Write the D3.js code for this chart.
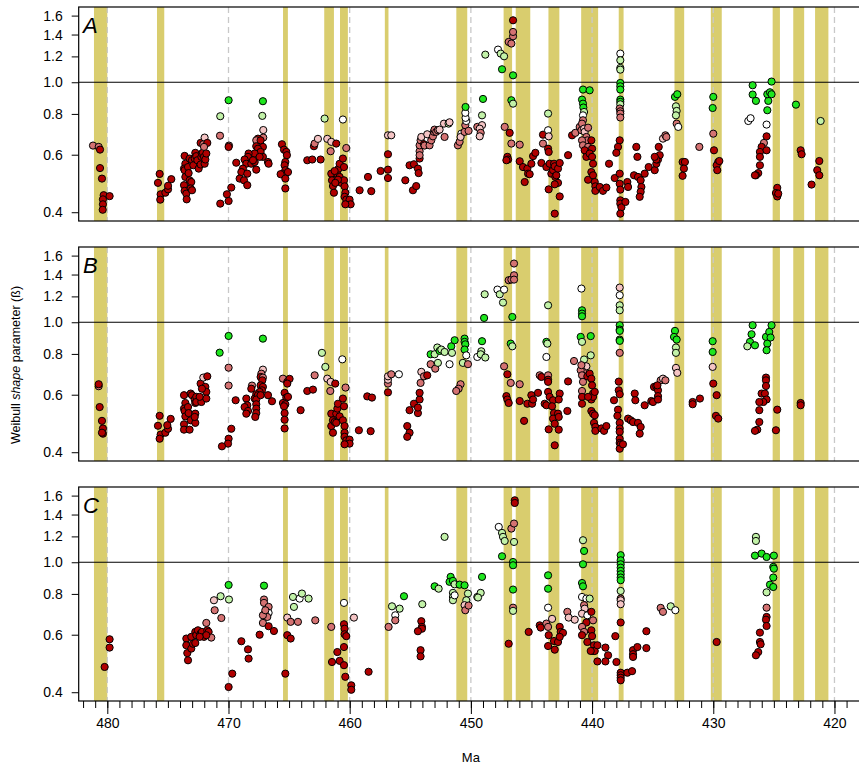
<!DOCTYPE html>
<html>
<head>
<meta charset="utf-8">
<script src="https://cdn.jsdelivr.net/npm/d3@7"></script>
<style>
  body { margin: 0; background: #fff; }
  svg { font-family: "Liberation Sans", Arial, sans-serif; }
</style>
</head>
<body>
<div id="chart"></div>
<script>
// extinction intervals (Ma, older -> younger)
const bands = [[481.1,480.0],[475.9,475.3],[465.5,465.1],[462.1,461.3],[460.8,460.15],[457.1,456.8],
  [451.2,450.3],[447.3,446.6],[446.3,445.1],[443.6,442.7],[440.9,439.5],[437.8,437.4],
  [433.2,432.4],[430.2,429.3],[425.1,424.5],[423.4,422.5],[421.6,420.5]];

const panelNames = ["A", "B", "C"];
const yTicks = [0.4, 0.6, 0.8, 1.0, 1.2, 1.4, 1.6];
const xMajor = [480, 470, 460, 450, 440, 430, 420];
const classKeys = ["r", "m", "p", "w", "l", "g"];
const classColors = ["#b00000", "#d47272", "#f4c4c4", "#ffffff", "#c2f2a8", "#1ee61e"];

// [age Ma, shape, class]
const pointsA = [
[481.18,0.640,'m'],[480.71,0.634,'m'],[480.60,0.622,'r'],[480.60,0.546,'r'],[480.44,0.507,'r'],[480.30,0.451,'r'],[479.81,0.448,'r'],[480.36,0.438,'r'],[480.36,0.423,'r'],[480.38,0.407,'r'],
[475.68,0.524,'r'],[475.82,0.492,'r'],[475.60,0.454,'r'],[475.63,0.437,'r'],[475.21,0.459,'r'],[474.99,0.470,'r'],[474.99,0.482,'r'],[474.72,0.505,'r'],
[473.62,0.595,'r'],[473.56,0.563,'r'],[473.67,0.544,'r'],[473.62,0.538,'r'],[473.56,0.513,'r'],[473.67,0.484,'r'],[473.62,0.465,'r'],[473.48,0.456,'r'],[473.45,0.438,'r'],[473.34,0.550,'r'],[473.29,0.527,'r'],[473.21,0.501,'r'],[473.07,0.495,'r'],[473.12,0.473,'r'],[473.01,0.467,'r'],[473.21,0.584,'r'],[473.01,0.577,'r'],[472.90,0.557,'r'],[472.79,0.584,'r'],[472.74,0.608,'r'],[472.66,0.594,'r'],[472.57,0.577,'r'],[472.46,0.544,'r'],[472.30,0.560,'r'],[472.24,0.591,'r'],[472.19,0.605,'r'],[472.11,0.609,'r'],[472.02,0.591,'r'],[471.97,0.563,'r'],[471.91,0.580,'r'],[471.83,0.605,'r'],[472.30,0.652,'r'],[472.08,0.646,'m'],[471.97,0.677,'p'],[471.75,0.652,'r'],[472.02,0.634,'m'],
[470.68,0.787,'l'],[470.70,0.686,'m'],[469.99,0.881,'g'],[469.96,0.640,'m'],[469.99,0.634,'r'],[469.36,0.567,'r'],[469.77,0.476,'r'],[470.13,0.454,'r'],[469.99,0.433,'r'],[470.68,0.425,'r'],
[467.16,0.875,'g'],[467.21,0.789,'l'],[467.13,0.714,'p'],[467.13,0.677,'m'],[467.57,0.672,'r'],[467.71,0.664,'m'],[467.71,0.637,'r'],[467.16,0.634,'r'],[467.57,0.626,'r'],[467.35,0.612,'r'],[467.84,0.605,'r'],[467.16,0.591,'r'],[468.34,0.605,'r'],[468.39,0.591,'r'],[468.67,0.580,'r'],[468.53,0.563,'r'],[468.12,0.563,'r'],[467.84,0.570,'r'],[467.71,0.540,'r'],[468.81,0.544,'r'],[468.94,0.531,'r'],[469.08,0.507,'r'],[468.72,0.501,'r'],[468.45,0.525,'r'],[468.45,0.484,'r'],[466.74,0.570,'r'],[466.69,0.563,'r'],[467.98,0.577,'r'],[467.43,0.591,'r'],[467.35,0.664,'r'],
[465.59,0.646,'r'],[465.42,0.622,'r'],[465.23,0.612,'r'],[465.18,0.598,'r'],[465.31,0.570,'r'],[465.37,0.557,'r'],[465.31,0.538,'r'],[465.51,0.525,'r'],[465.70,0.523,'r'],[465.09,0.531,'r'],[465.31,0.507,'r'],[465.31,0.473,'r'],
[463.50,0.577,'r'],[463.09,0.580,'r'],[462.40,0.580,'r'],[462.95,0.637,'r'],[462.89,0.649,'m'],[462.62,0.671,'p'],
[462.07,0.774,'l'],[461.85,0.671,'p'],[461.52,0.657,'p'],[461.11,0.649,'r'],[461.57,0.615,'m'],[460.56,0.769,'w'],[460.28,0.629,'m'],
[461.52,0.525,'r'],[461.46,0.501,'r'],[461.38,0.481,'r'],[461.30,0.459,'r'],[461.11,0.495,'r'],[461.02,0.523,'r'],[460.91,0.544,'r'],[460.83,0.563,'r'],[461.24,0.535,'r'],[460.83,0.513,'r'],[460.69,0.492,'r'],[460.56,0.584,'r'],[460.47,0.550,'r'],[460.47,0.501,'r'],[460.42,0.480,'r'],[460.36,0.459,'r'],[460.42,0.446,'r'],[460.28,0.437,'r'],[460.01,0.437,'r'],[459.92,0.423,'r'],[460.36,0.423,'r'],[460.97,0.503,'r'],[461.19,0.492,'r'],
[459.18,0.467,'r'],[458.49,0.513,'r'],[458.22,0.464,'r'],
[457.45,0.535,'r'],[456.84,0.602,'r'],[456.84,0.540,'r'],[456.84,0.509,'r'],[456.84,0.688,'p'],[456.57,0.688,'p'],
[455.41,0.501,'r'],[455.06,0.557,'r'],[454.70,0.561,'r'],[454.78,0.467,'r'],[454.51,0.481,'r'],[454.37,0.544,'r'],[454.31,0.527,'r'],[454.23,0.584,'r'],[454.23,0.615,'m'],[454.23,0.641,'m'],[454.23,0.598,'m'],[454.15,0.664,'m'],[454.09,0.680,'p'],[453.87,0.646,'r'],[453.82,0.640,'m'],[453.60,0.693,'p'],[453.41,0.641,'m'],[453.27,0.664,'m'],[453.13,0.683,'m'],[453.05,0.705,'m'],[453.00,0.716,'m'],[452.86,0.705,'m'],[452.72,0.713,'m'],[452.58,0.716,'p'],[452.22,0.747,'p'],[452.17,0.680,'m'],[451.84,0.747,'l'],[451.76,0.754,'p'],
[451.07,0.641,'m'],[450.93,0.657,'m'],[450.79,0.696,'w'],[450.85,0.680,'p'],[450.52,0.705,'m'],[450.46,0.739,'m'],[450.38,0.761,'w'],[450.44,0.778,'w'],[450.46,0.806,'w'],[450.44,0.840,'g'],[450.19,0.710,'m'],[449.47,0.730,'m'],
[448.81,1.215,'l'],[447.76,1.259,'w'],[447.54,1.224,'l'],[447.26,1.201,'l'],[447.43,1.096,'g'],[446.52,1.050,'g'],[446.88,1.329,'m'],[446.66,1.314,'m'],[446.52,1.383,'m'],[446.52,1.426,'m'],[446.52,1.548,'r'],
[449.00,0.889,'g'],[449.08,0.792,'l'],[449.08,0.739,'p'],[449.27,0.721,'p'],[449.19,0.700,'m'],[449.27,0.683,'p'],
[446.66,0.881,'g'],[446.52,0.860,'l'],[447.21,0.730,'m'],[446.80,0.700,'r'],[446.66,0.649,'m'],[445.97,0.644,'m'],[446.99,0.591,'r'],[446.93,0.580,'r'],[447.07,0.577,'r'],[445.97,0.573,'r'],[445.70,0.550,'r'],[445.56,0.495,'r'],[445.34,0.544,'r'],[445.28,0.525,'r'],[445.15,0.523,'r'],[445.01,0.563,'r'],[444.87,0.594,'r'],[444.68,0.608,'r'],[444.18,0.566,'r'],[444.05,0.691,'r'],[444.05,0.649,'m'],[443.63,0.802,'l'],[443.63,0.713,'w'],[443.58,0.683,'p'],[443.63,0.626,'r'],[443.58,0.612,'r'],[443.77,0.550,'r'],[443.50,0.563,'r'],[443.36,0.525,'r'],[443.22,0.538,'r'],[443.14,0.563,'r'],[443.08,0.553,'r'],[443.03,0.513,'r'],[442.95,0.519,'r'],[442.81,0.544,'r'],[442.81,0.492,'r'],[442.67,0.566,'r'],[442.67,0.447,'r'],[443.08,0.487,'r'],[443.58,0.470,'r'],[443.08,0.396,'r'],
[441.98,0.598,'r'],[441.65,0.688,'r'],[441.38,0.700,'m'],[441.02,0.730,'m'],[440.88,0.713,'m'],[440.75,0.950,'g'],[440.20,0.945,'g'],[440.83,0.885,'g'],[440.75,0.860,'g'],[440.72,0.837,'g'],[440.66,0.811,'l'],[440.75,0.792,'w'],[440.75,0.765,'m'],[440.83,0.747,'m'],[440.66,0.721,'p'],[440.61,0.705,'p'],[440.33,0.726,'m'],[440.47,0.680,'m'],[440.39,0.664,'m'],[440.83,0.664,'m'],[440.75,0.641,'m'],[440.33,0.634,'m'],[440.06,0.664,'r'],[440.00,0.626,'r'],[440.61,0.619,'r'],[440.47,0.591,'r'],[440.20,0.605,'r'],[440.00,0.591,'r'],[439.92,0.563,'r'],[440.06,0.531,'r'],[440.33,0.503,'r'],[439.92,0.519,'r'],[439.78,0.495,'r'],[439.73,0.480,'r'],[439.73,0.465,'r'],[439.37,0.478,'r'],[439.10,0.465,'r'],[438.82,0.476,'r'],[438.60,0.563,'r'],
[437.67,1.224,'w'],[437.67,1.168,'l'],[437.67,1.106,'l'],[437.67,1.093,'l'],[437.67,0.995,'g'],[437.67,0.972,'g'],[437.67,0.950,'g'],[437.67,0.885,'g'],[437.67,0.871,'g'],[437.67,0.856,'l'],[437.72,0.831,'m'],[437.67,0.815,'m'],[437.67,0.802,'m'],[437.67,0.780,'m'],[437.72,0.664,'r'],[437.86,0.634,'r'],[438.00,0.608,'r'],[438.13,0.509,'r'],[437.72,0.525,'r'],[437.72,0.489,'r'],[437.67,0.469,'r'],[437.67,0.435,'r'],[437.67,0.425,'r'],[437.58,0.414,'r'],[437.67,0.396,'r'],[437.25,0.430,'r'],[437.09,0.495,'r'],[437.03,0.478,'r'],
[436.35,0.634,'r'],[436.26,0.591,'r'],[436.54,0.519,'r'],[436.21,0.513,'r'],[435.99,0.501,'r'],[435.93,0.478,'r'],[435.99,0.462,'r'],[436.07,0.446,'r'],[435.66,0.525,'r'],[435.33,0.550,'r'],[434.83,0.538,'r'],[434.70,0.563,'r'],[434.56,0.580,'r'],[434.42,0.598,'r'],[434.50,0.634,'r'],[434.70,0.580,'r'],[434.83,0.591,'r'],[434.15,0.672,'p'],[433.95,0.688,'m'],[433.87,0.680,'m'],
[433.16,0.902,'g'],[432.97,0.919,'g'],[433.08,0.844,'l'],[433.02,0.817,'l'],[433.08,0.792,'l'],[433.02,0.747,'m'],[432.89,0.730,'w'],
[432.53,0.570,'r'],[432.34,0.570,'r'],[432.42,0.544,'r'],[432.53,0.517,'r'],
[431.15,0.634,'m'],[430.00,0.902,'g'],[430.05,0.834,'g'],[430.00,0.696,'m'],[429.94,0.619,'r'],[429.59,0.570,'r'],[429.72,0.557,'r'],[429.67,0.538,'r'],[429.50,0.574,'r'],
[427.11,0.761,'w'],[426.92,0.776,'w'],[426.75,0.979,'g'],[426.75,0.917,'g'],[426.48,0.877,'g'],[425.60,0.742,'w'],[425.54,0.821,'g'],[425.46,0.877,'g'],[425.54,0.919,'g'],[425.32,0.932,'g'],[425.19,1.005,'g'],[425.19,0.919,'g'],[425.60,0.683,'r'],[425.82,0.652,'m'],[426.01,0.634,'r'],[426.15,0.612,'r'],[426.15,0.591,'r'],[425.60,0.619,'r'],[426.15,0.557,'r'],[426.29,0.527,'r'],[426.48,0.519,'r'],[426.56,0.519,'r'],
[424.72,0.475,'r'],[424.83,0.458,'r'],[424.72,0.447,'r'],[424.64,0.456,'r'],
[423.18,0.854,'g'],[422.79,0.619,'r'],[422.71,0.602,'r'],[421.89,0.486,'r'],[421.14,0.761,'l'],[421.25,0.574,'r'],[421.42,0.538,'r'],[421.25,0.519,'r']
];

const pointsB = [
[480.71,0.637,'m'],[480.71,0.646,'r'],[480.63,0.550,'r'],[480.44,0.499,'r'],[480.36,0.473,'r'],[480.36,0.456,'r'],[480.44,0.459,'r'],
[475.68,0.517,'r'],[475.82,0.482,'r'],[475.60,0.453,'r'],[475.68,0.440,'r'],[475.21,0.459,'r'],[474.99,0.472,'r'],[475.05,0.484,'r'],[474.77,0.506,'r'],
[473.67,0.598,'r'],[473.56,0.566,'r'],[473.67,0.544,'r'],[473.62,0.535,'r'],[473.56,0.515,'r'],[473.67,0.487,'r'],[473.67,0.469,'r'],[473.21,0.469,'r'],[473.34,0.550,'r'],[473.29,0.527,'r'],[473.12,0.501,'r'],[473.12,0.605,'r'],[473.01,0.598,'r'],[472.79,0.580,'r'],[472.74,0.566,'r'],[472.66,0.591,'r'],[472.66,0.570,'r'],[472.74,0.525,'r'],[472.74,0.492,'r'],[472.79,0.513,'r'],[472.24,0.570,'r'],[472.30,0.649,'r'],[472.08,0.677,'p'],[471.75,0.683,'r'],[471.91,0.634,'r'],[471.83,0.612,'r'],[471.83,0.584,'r'],[472.19,0.626,'r'],[472.38,0.591,'r'],
[470.73,0.807,'g'],[469.99,0.908,'g'],[469.99,0.726,'m'],[469.99,0.640,'m'],[469.41,0.577,'r'],[469.77,0.472,'r'],[469.99,0.440,'r'],[470.04,0.425,'r'],[470.54,0.417,'r'],
[467.16,0.891,'g'],[467.16,0.716,'p'],[467.29,0.696,'m'],[467.35,0.680,'r'],[467.16,0.677,'m'],[467.21,0.664,'r'],[467.35,0.641,'r'],[467.16,0.634,'r'],[467.24,0.619,'r'],[468.06,0.640,'m'],[468.12,0.626,'r'],[467.43,0.612,'r'],[467.71,0.602,'r'],[467.84,0.584,'r'],[467.57,0.598,'r'],[467.71,0.580,'r'],[467.71,0.561,'r'],[467.71,0.544,'r'],[467.71,0.527,'r'],[467.79,0.513,'r'],[468.53,0.584,'r'],[468.45,0.557,'r'],[468.67,0.550,'r'],[468.39,0.535,'r'],[468.53,0.525,'r'],[466.74,0.598,'r'],[466.41,0.573,'r'],[467.35,0.598,'r'],
[465.51,0.672,'m'],[465.15,0.657,'r'],[464.96,0.671,'r'],[465.15,0.649,'r'],[465.37,0.608,'r'],[465.23,0.588,'r'],[465.51,0.566,'r'],[465.31,0.561,'r'],[465.42,0.553,'r'],[465.37,0.527,'r'],[465.37,0.503,'r'],[465.37,0.473,'r'],[465.09,0.591,'r'],
[464.05,0.538,'r'],[463.50,0.616,'r'],[463.03,0.622,'r'],[462.89,0.688,'m'],[462.29,0.806,'l'],[462.01,0.730,'l'],[461.85,0.672,'p'],[461.57,0.657,'p'],[461.19,0.649,'r'],[461.60,0.616,'m'],[460.61,0.770,'w'],[460.34,0.631,'m'],
[461.52,0.525,'r'],[461.38,0.501,'r'],[461.52,0.481,'r'],[461.38,0.459,'r'],[461.24,0.495,'r'],[461.11,0.525,'r'],[461.02,0.544,'r'],[460.97,0.563,'r'],[460.83,0.515,'r'],[461.11,0.492,'r'],[460.56,0.584,'r'],[460.47,0.553,'r'],[460.56,0.501,'r'],[460.42,0.481,'r'],[460.42,0.459,'r'],[460.42,0.446,'r'],[460.28,0.435,'r'],[460.01,0.437,'r'],[460.01,0.425,'r'],[460.42,0.423,'r'],
[459.24,0.467,'r'],[458.55,0.593,'r'],[458.16,0.588,'r'],[458.27,0.464,'r'],
[456.84,0.610,'r'],[456.84,0.649,'m'],[456.84,0.667,'p'],[456.84,0.683,'p'],[456.57,0.693,'m'],[455.94,0.693,'w'],
[455.06,0.538,'r'],[455.25,0.481,'r'],[455.06,0.459,'r'],[455.25,0.446,'r'],[454.70,0.563,'r'],[454.37,0.527,'r'],[454.37,0.548,'r'],[454.23,0.580,'r'],[454.23,0.608,'r'],[454.15,0.652,'m'],[454.09,0.705,'p'],[453.87,0.683,'m'],[453.60,0.688,'r'],[453.32,0.744,'m'],[452.94,0.721,'m'],[452.72,0.751,'l'],[453.32,0.798,'g'],[452.99,0.798,'l'],[452.77,0.837,'l'],[452.58,0.817,'g'],[452.44,0.825,'l'],[452.17,0.811,'l'],[451.62,0.844,'g'],[451.56,0.806,'l'],[451.34,0.881,'g'],[451.76,0.744,'w'],
[450.52,0.891,'g'],[450.52,0.871,'g'],[450.46,0.856,'g'],[450.52,0.825,'g'],[450.66,0.751,'l'],[450.38,0.792,'w'],[450.24,0.744,'m'],[450.85,0.646,'m'],[451.01,0.626,'m'],[451.21,0.616,'m'],[449.47,0.783,'w'],
[448.86,1.218,'l'],[447.81,1.259,'w'],[447.62,1.218,'l'],[447.26,1.259,'w'],[447.35,1.149,'l'],[448.91,1.031,'g'],[446.58,1.038,'g'],[446.88,1.345,'m'],[446.66,1.351,'m'],[446.44,1.393,'m'],[446.44,1.351,'m'],[446.44,1.513,'m'],
[449.08,0.875,'g'],[449.14,0.815,'l'],[449.19,0.798,'l'],[448.81,0.780,'l'],[443.63,1.127,'l'],[443.77,0.871,'g'],[443.69,0.860,'l'],[443.77,0.783,'w'],[440.88,1.268,'w'],[440.83,1.088,'g'],[440.83,1.063,'g'],[440.83,1.043,'g'],[440.94,0.902,'g'],[440.83,0.871,'l'],[440.11,0.907,'g'],[440.11,0.792,'l'],[440.66,0.769,'l'],[440.47,0.733,'p'],[440.75,0.705,'m'],[440.66,0.683,'p'],[440.94,0.713,'m'],
[446.71,0.860,'g'],[446.58,0.844,'l'],[447.26,0.733,'m'],[446.99,0.693,'r'],[446.71,0.652,'m'],[445.97,0.646,'m'],[447.07,0.594,'r'],[446.99,0.580,'r'],[446.88,0.566,'r'],[445.97,0.574,'r'],[445.61,0.499,'r'],[445.34,0.563,'r'],[445.01,0.598,'r'],[444.95,0.563,'r'],[444.87,0.580,'r'],[444.46,0.608,'r'],[444.32,0.688,'m'],[444.18,0.680,'r'],[443.91,0.563,'r'],[443.63,0.688,'m'],[443.63,0.667,'r'],[443.63,0.657,'r'],[443.63,0.612,'r'],[443.50,0.591,'r'],[443.77,0.557,'r'],[443.22,0.577,'r'],[443.30,0.553,'r'],[443.14,0.527,'r'],[443.22,0.507,'r'],[443.08,0.489,'r'],[442.81,0.525,'r'],[442.75,0.513,'r'],[442.67,0.605,'r'],[442.75,0.580,'r'],[442.04,0.535,'r'],[441.98,0.659,'r'],[441.49,0.761,'m'],[443.58,0.470,'r'],[442.75,0.469,'r'],[443.08,0.420,'r'],
[440.88,0.739,'m'],[440.83,0.688,'m'],[440.75,0.657,'m'],[440.83,0.616,'m'],[440.83,0.591,'r'],[440.83,0.563,'r'],[440.39,0.683,'r'],[440.20,0.696,'r'],[440.06,0.672,'r'],[440.00,0.641,'r'],[439.92,0.605,'r'],[440.06,0.580,'r'],[439.92,0.591,'r'],[440.06,0.535,'r'],[439.92,0.525,'r'],[439.78,0.519,'r'],[439.84,0.492,'r'],[439.73,0.478,'r'],[439.73,0.465,'r'],[439.23,0.473,'r'],[439.01,0.465,'r'],[438.82,0.481,'r'],[439.78,0.612,'r'],[440.33,0.591,'r'],
[437.72,1.277,'p'],[437.72,1.210,'w'],[437.72,1.127,'l'],[437.72,1.088,'l'],[437.72,0.979,'g'],[437.72,0.950,'g'],[437.72,0.941,'g'],[437.72,0.885,'g'],[437.72,0.877,'g'],[437.72,0.806,'m'],[437.80,0.658,'r'],[437.80,0.619,'r'],[437.72,0.602,'r'],[438.19,0.577,'r'],[437.86,0.540,'r'],[437.91,0.517,'r'],[437.72,0.492,'r'],[437.72,0.473,'r'],[437.72,0.462,'r'],[437.72,0.440,'r'],[437.72,0.427,'r'],[437.64,0.423,'r'],[437.72,0.410,'r'],[437.45,0.423,'r'],
[437.03,0.507,'r'],[436.81,0.501,'r'],[436.62,0.495,'r'],[436.48,0.605,'r'],[436.43,0.577,'r'],[436.21,0.492,'r'],[435.99,0.478,'r'],[436.07,0.456,'r'],[435.66,0.557,'r'],[435.11,0.574,'r'],[434.97,0.570,'r'],[434.89,0.634,'r'],[434.70,0.637,'r'],[434.56,0.619,'r'],[434.56,0.594,'r'],[434.56,0.580,'r'],[434.34,0.664,'m'],[434.15,0.672,'p'],[433.95,0.664,'m'],[434.61,0.641,'r'],
[433.16,0.941,'g'],[433.24,0.902,'g'],[433.02,0.885,'g'],[433.08,0.837,'l'],[433.08,0.806,'l'],[433.08,0.725,'p'],[432.97,0.700,'p'],
[431.70,0.570,'r'],[431.70,0.561,'r'],[431.10,0.584,'r'],
[430.05,0.875,'g'],[430.05,0.811,'g'],[430.05,0.730,'p'],[430.00,0.649,'r'],[429.72,0.598,'r'],[429.78,0.517,'r'],[429.59,0.507,'r'],
[426.75,0.979,'g'],[426.84,0.919,'g'],[426.97,0.871,'g'],[427.19,0.844,'l'],[426.56,0.850,'g'],[425.65,0.902,'g'],[425.54,0.860,'g'],[425.60,0.821,'g'],[425.38,0.934,'g'],[425.19,0.979,'g'],[425.27,0.898,'g'],
[425.65,0.677,'r'],[425.65,0.664,'r'],[425.65,0.638,'r'],[426.01,0.605,'r'],[425.74,0.605,'r'],[425.60,0.580,'r'],[425.87,0.570,'r'],[426.20,0.570,'r'],[426.20,0.538,'r'],[426.20,0.495,'r'],[426.37,0.469,'r'],[426.56,0.465,'r'],[424.72,0.540,'r'],[424.83,0.467,'r'],
[422.79,0.566,'r'],[422.79,0.557,'r']
];

const pointsC = [
[479.81,0.581,'r'],[479.81,0.548,'r'],[480.22,0.478,'r'],
[473.48,0.584,'r'],[473.48,0.557,'r'],[473.40,0.527,'r'],[473.34,0.501,'r'],[473.07,0.591,'r'],[473.07,0.544,'r'],[472.93,0.563,'r'],[472.74,0.566,'r'],[472.74,0.612,'r'],[472.66,0.598,'r'],[472.52,0.619,'r'],[472.30,0.605,'r'],[472.19,0.612,'r'],[472.02,0.591,'r'],[471.83,0.652,'m'],[471.75,0.619,'r'],[471.64,0.612,'r'],[471.42,0.588,'m'],[471.83,0.598,'r'],[472.38,0.591,'r'],
[471.20,0.765,'p'],[471.14,0.713,'m'],[470.65,0.787,'l'],[470.59,0.675,'m'],[469.99,0.852,'g'],[469.96,0.769,'l'],[468.94,0.573,'r'],[468.39,0.541,'r'],[468.34,0.507,'r'],[469.69,0.456,'r'],[469.99,0.415,'r'],
[467.07,0.848,'g'],[467.07,0.769,'m'],[467.07,0.751,'m'],[466.69,0.730,'m'],[466.69,0.700,'w'],[467.02,0.696,'p'],[466.80,0.680,'m'],[467.16,0.688,'m'],[467.16,0.652,'m'],[466.69,0.637,'r'],[466.25,0.616,'r'],[467.43,0.600,'r'],[466.96,0.713,'m'],
[465.31,0.456,'r'],[465.15,0.677,'p'],[464.87,0.657,'m'],[464.27,0.657,'m'],[462.84,0.664,'m'],[465.15,0.598,'r'],[464.87,0.584,'r'],[464.60,0.730,'l'],[464.68,0.783,'l'],[464.13,0.774,'w'],[463.94,0.802,'l'],[463.39,0.774,'l'],
[461.52,0.634,'m'],[460.47,0.751,'w'],[460.47,0.646,'r'],[460.42,0.626,'r'],[460.42,0.602,'r'],[460.28,0.594,'r'],[460.47,0.550,'r'],[461.02,0.531,'r'],[461.46,0.495,'r'],[460.83,0.499,'r'],[460.47,0.484,'r'],[460.36,0.446,'r'],[459.87,0.420,'r'],[459.87,0.407,'r'],[459.65,0.677,'p'],
[458.44,0.462,'r'],[456.79,0.634,'m'],[456.51,0.733,'l'],[456.24,0.688,'w'],[456.24,0.664,'m'],[455.88,0.721,'l'],
[455.52,0.787,'g'],[454.01,0.744,'l'],[454.09,0.660,'r'],[454.04,0.634,'r'],[454.04,0.626,'r'],[454.37,0.615,'r'],[454.15,0.538,'r'],[454.15,0.515,'r'],
[452.17,1.196,'l'],[452.99,0.844,'g'],[452.66,0.830,'l'],[451.67,0.902,'g'],[451.76,0.871,'g'],[451.48,0.877,'g'],[451.34,0.856,'l'],[450.93,0.854,'g'],[450.52,0.850,'g'],[451.48,0.806,'l'],[451.48,0.783,'l'],[451.48,0.765,'l'],[451.34,0.792,'w'],[450.24,0.802,'l'],[450.38,0.765,'l'],[450.52,0.739,'p'],[450.46,0.713,'m'],[450.19,0.737,'m'],[449.47,0.783,'l'],
[447.70,1.283,'w'],[447.43,1.230,'l'],[447.35,1.196,'l'],[447.21,1.162,'l'],[446.66,1.268,'m'],[446.44,1.314,'m'],[446.44,1.154,'l'],[446.38,1.548,'r'],[446.38,1.519,'r'],[447.43,1.043,'g'],[446.52,1.002,'g'],[446.52,0.979,'g'],[449.08,0.902,'g'],[449.19,0.806,'l'],[449.41,0.780,'l'],
[446.52,0.825,'g'],[446.52,0.726,'m'],[446.52,0.710,'l'],[446.88,0.563,'r'],[445.23,0.612,'r'],[444.32,0.641,'r'],[444.24,0.631,'r'],[443.77,0.649,'m'],[443.63,0.634,'m'],[443.30,0.671,'p'],[443.63,0.726,'w'],[443.63,0.830,'g'],[443.63,0.912,'g'],[443.58,0.598,'r'],[443.63,0.554,'r'],[443.14,0.574,'r'],[443.08,0.540,'r'],[442.81,0.570,'r'],[442.67,0.634,'r'],[442.59,0.612,'r'],[442.40,0.608,'r'],[442.67,0.591,'r'],[442.04,0.705,'m'],[441.93,0.677,'p'],[441.43,0.667,'p'],
[440.75,1.168,'l'],[440.66,1.083,'g'],[440.75,0.986,'g'],[440.83,0.864,'g'],[440.75,0.844,'g'],[440.83,0.783,'w'],[440.47,0.774,'w'],[440.20,0.774,'l'],[440.66,0.739,'m'],[440.61,0.721,'p'],[440.83,0.696,'p'],[440.39,0.688,'w'],[440.47,0.654,'r'],[440.06,0.705,'r'],[439.92,0.664,'m'],[440.83,0.634,'m'],[440.66,0.612,'m'],[440.83,0.598,'r'],[440.39,0.570,'r'],[440.06,0.619,'r'],[440.00,0.594,'r'],[439.84,0.557,'r'],[439.92,0.535,'r'],[439.78,0.535,'r'],[440.11,0.535,'r'],[439.56,0.557,'r'],[439.56,0.497,'r'],[438.90,0.548,'r'],[438.68,0.519,'r'],[438.90,0.497,'r'],[437.99,0.495,'r'],[438.08,0.594,'r'],
[437.64,1.051,'g'],[437.64,1.014,'g'],[437.64,0.986,'g'],[437.64,0.963,'g'],[437.64,0.941,'g'],[437.64,0.919,'g'],[437.64,0.898,'g'],[437.64,0.881,'g'],[437.64,0.817,'l'],[437.64,0.774,'m'],[437.64,0.765,'p'],[437.64,0.744,'p'],[437.64,0.654,'r'],[437.64,0.459,'r'],[437.64,0.451,'r'],[437.64,0.443,'r'],[437.64,0.435,'r'],[437.09,0.459,'r'],[436.70,0.464,'r'],
[436.62,0.538,'r'],[436.62,0.523,'r'],[436.62,0.513,'r'],[436.26,0.550,'r'],[435.52,0.615,'r'],[435.52,0.546,'r'],[434.34,0.725,'m'],[434.15,0.705,'m'],[433.51,0.733,'l'],[433.13,0.713,'w'],
[429.72,0.570,'r'],
[426.48,1.196,'l'],[426.48,1.162,'l'],[426.56,1.048,'g'],[426.01,1.063,'g'],[425.60,1.038,'g'],[425.00,1.048,'g'],[425.05,0.968,'g'],[425.00,0.956,'g'],[425.05,0.898,'g'],[425.32,0.854,'g'],[425.05,0.840,'g'],[425.60,0.809,'l'],
[425.60,0.726,'m'],[425.60,0.680,'r'],[425.65,0.667,'r'],[425.60,0.638,'r'],[426.15,0.609,'r'],[426.15,0.570,'r'],[426.09,0.561,'r'],[426.29,0.531,'r'],[426.48,0.519,'r']
];

const panelData = [pointsA, pointsB, pointsC];

let width = 859, height = 764;
let left = 78.7, right = 861;
let panelTops = [7, 247, 487], panelH = 214;

const svg = d3.select("#chart").append("svg")
  .attr("width", width)
  .attr("height", height);

let x = d3.scaleLinear()
  .domain([482.36, 417.81])
  .range([left, right]);

const color = d3.scaleOrdinal().domain(classKeys).range(classColors);

panelData.forEach(function(points, i) {
  let top = panelTops[i];
  let y = d3.scaleLog()
    .domain([0.376, 1.70])
    .range([top + panelH, top]);

  const g = svg.append("g");

  g.selectAll("rect.band")
    .data(bands)
    .enter()
    .append("rect")
    .attr("class", "band")
    .attr("x", (d) => x(d[0]))
    .attr("width", (d) => x(d[1]) - x(d[0]))
    .attr("y", top)
    .attr("height", panelH)
    .style("fill", "#d9cd6e");

  g.selectAll("line.grid")
    .data(xMajor)
    .enter()
    .append("line")
    .attr("class", "grid")
    .attr("x1", (d) => x(d))
    .attr("x2", (d) => x(d))
    .attr("y1", top)
    .attr("y2", top + panelH)
    .style("stroke", "#c8c8c8")
    .style("stroke-width", 1.3)
    .style("stroke-dasharray", "6,4");

  g.append("line")
    .attr("x1", left)
    .attr("x2", right)
    .attr("y1", y(1))
    .attr("y2", y(1))
    .style("stroke", "#000")
    .style("stroke-width", 1.2);

  g.selectAll("circle")
    .data(points)
    .enter()
    .append("circle")
    .attr("cx", (d) => x(d[0]))
    .attr("cy", (d) => y(d[1]))
    .attr("r", 3.6)
    .style("fill", (d) => color(d[2]))
    .style("stroke", "#000")
    .style("stroke-width", 1);

  g.append("rect")
    .attr("x", left)
    .attr("y", top)
    .attr("width", right - left)
    .attr("height", panelH)
    .style("fill", "none")
    .style("stroke", "#000")
    .style("stroke-width", 1.2);

  const yAxis = d3.axisLeft(y)
    .tickValues(yTicks)
    .tickFormat(d3.format(".1f"))
    .tickSize(7)
    .tickPadding(9);

  const ya = g.append("g")
    .attr("transform", "translate(" + left + ",0)")
    .call(yAxis);
  ya.select(".domain").remove();
  ya.selectAll("text").style("font-size", "14px").style("fill", "#000");

  g.append("text")
    .text(panelNames[i])
    .attr("x", 83)
    .attr("y", top + 26)
    .style("font-size", "22px")
    .style("font-style", "italic");
});

// x axis under the last panel
let axisY = panelTops[2] + panelH;
let minor = d3.range(419, 483);

const xMinor = svg.append("g")
  .attr("transform", "translate(0," + axisY + ")")
  .call(d3.axisBottom(x).tickValues(minor).tickSize(7).tickFormat(""));
xMinor.select(".domain").remove();

const xMaj = svg.append("g")
  .attr("transform", "translate(0," + axisY + ")")
  .call(d3.axisBottom(x).tickValues(xMajor).tickSize(13).tickPadding(4).tickFormat(d3.format("d")));
xMaj.select(".domain").remove();
xMaj.selectAll("text").style("font-size", "14px").style("fill", "#000");

svg.append("text")
  .text("Ma")
  .attr("x", x(450))
  .attr("y", 762)
  .attr("text-anchor", "middle")
  .style("font-size", "13px");

const ylab = svg.append("text")
  .attr("transform", "translate(20,365) rotate(-90)")
  .attr("text-anchor", "middle")
  .style("font-size", "12.5px");
ylab.append("tspan").text("Weibull ");
ylab.append("tspan").text("shape").style("font-style", "italic");
ylab.append("tspan").text(" parameter (\u00DF)");
</script>
</body>
</html>
